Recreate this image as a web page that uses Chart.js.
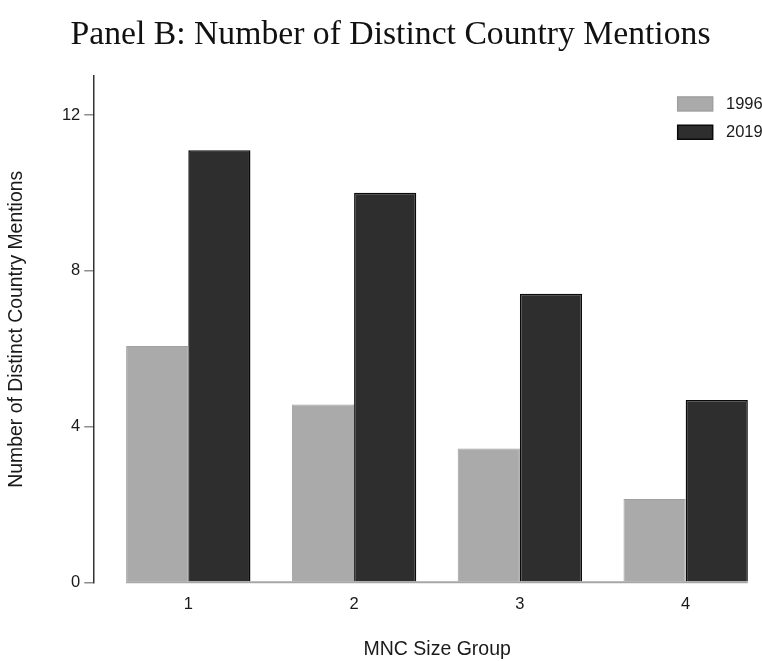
<!DOCTYPE html>
<html>
<head>
<meta charset="utf-8">
<script src="https://cdn.jsdelivr.net/npm/chart.js@4/dist/chart.umd.min.js"></script>
<style>
  html, body { margin: 0; padding: 0; background: #ffffff; overflow: hidden; width: 762px; height: 661px; }
  #wrap { position: relative; width: 781px; height: 661px; }
</style>
</head>
<body>
<div id="wrap"><canvas id="c"></canvas></div>
<script>
// ---- data ----
const categories = ['1', '2', '3', '4'];
const seriesNames = ['1996', '2019'];
const values1996 = [6.07, 4.57, 3.44, 2.14];
const values2019 = [11.10, 10.01, 7.41, 4.68];
const yTicks = [0, 4, 8, 12];
const titleText = 'Panel B: Number of Distinct Country Mentions';
const xTitle = 'MNC Size Group';
const yTitle = 'Number of Distinct Country Mentions';

const fill1996 = '#aaaaaa';
const fill2019 = '#2e2e2e';
const sansFont = "'Liberation Sans', Arial, Helvetica, sans-serif";

// baseline drawn from first bar's left edge to last bar's right edge
const baselinePlugin = {
  id: 'baseline',
  afterDatasetsDraw(chart) {
    const ctx = chart.ctx;
    const y = chart.scales.y.getPixelForValue(0);
    let minX = Infinity, maxX = -Infinity;
    chart.data.datasets.forEach((ds, i) => {
      chart.getDatasetMeta(i).data.forEach(el => {
        const p = el.getProps(['x', 'width'], true);
        minX = Math.min(minX, p.x - p.width / 2);
        maxX = Math.max(maxX, p.x + p.width / 2);
      });
    });
    ctx.save();
    ctx.strokeStyle = '#a6a6a6';
    ctx.lineWidth = 2;
    ctx.beginPath();
    ctx.moveTo(minX, y);
    ctx.lineTo(maxX, y);
    ctx.stroke();
    ctx.restore();
  }
};

// legend inside the plot, top-right, stacked vertically
const insideLegend = {
  id: 'insideLegend',
  afterDraw(chart) {
    const ctx = chart.ctx;
    const ca = chart.chartArea;
    const boxW = 35, boxH = 14, rowGap = 28.3;
    const boxLeft = ca.right - 103.3;
    const textLeft = ca.right - 55;
    const top0 = ca.top + 20.7;
    ctx.save();
    ctx.font = "16.5px " + sansFont;
    ctx.textBaseline = 'middle';
    ctx.textAlign = 'left';
    chart.data.datasets.forEach((ds, i) => {
      const top = top0 + i * rowGap;
      ctx.fillStyle = ds.backgroundColor;
      ctx.fillRect(boxLeft, top, boxW, boxH);
      ctx.strokeStyle = ds.borderColor;
      ctx.lineWidth = 1.5;
      ctx.strokeRect(boxLeft, top, boxW, boxH);
      ctx.fillStyle = '#1a1a1a';
      ctx.fillText(ds.label, textLeft, top + boxH / 2 + 0.5);
    });
    ctx.restore();
  }
};

new Chart(document.getElementById('c'), {
  type: 'bar',
  data: {
    labels: categories,
    datasets: [
      {
        label: seriesNames[0],
        data: values1996,
        backgroundColor: fill1996,
        borderColor: '#a0a0a0',
        borderWidth: 1,
        categoryPercentage: 0.75,
        barPercentage: 1.0
      },
      {
        label: seriesNames[1],
        data: values2019,
        backgroundColor: fill2019,
        borderColor: '#0a0a0a',
        borderWidth: 1.5,
        categoryPercentage: 0.75,
        barPercentage: 1.0
      }
    ]
  },
  options: {
    responsive: true,
    maintainAspectRatio: false,
    animation: false,
    layout: { padding: 0 },
    plugins: {
      legend: { display: false },
      tooltip: { enabled: false },
      title: {
        display: true,
        text: titleText,
        color: '#111111',
        font: { family: "'Liberation Serif', 'Times New Roman', serif", size: 33.7, weight: 'normal', lineHeight: 1.2 },
        padding: { top: 15, bottom: 20.8 }
      }
    },
    scales: {
      x: {
        type: 'linear',
        offset: false,
        min: 0.427,
        max: 4.575,
        grid: { display: false, drawTicks: false },
        border: { display: false },
        afterBuildTicks(scale) {
          scale.ticks = categories.map(c => ({ value: +c }));
        },
        ticks: {
          stepSize: 1,
          includeBounds: false,
          padding: 12,
          color: '#1a1a1a',
          font: { family: sansFont, size: 16.5 },
          callback: (v) => String(v)
        },
        title: {
          display: true,
          text: xTitle,
          color: '#1a1a1a',
          font: { family: sansFont, size: 19.5 },
          padding: { top: 0, bottom: 0 }
        },
        afterFit(scale) { scale.height = 78.7; }
      },
      y: {
        min: 0,
        max: 13,
        afterBuildTicks(scale) {
          scale.ticks = yTicks.map(v => ({ value: v }));
        },
        grid: {
          display: true,
          drawOnChartArea: false,
          drawTicks: true,
          tickLength: 9,
          color: '#8c8c8c',
          lineWidth: 1.5
        },
        border: { display: true, color: '#333333', width: 1.5 },
        ticks: {
          padding: 4,
          color: '#1a1a1a',
          font: { family: sansFont, size: 16.5 }
        },
        title: {
          display: true,
          text: yTitle,
          color: '#1a1a1a',
          font: { family: sansFont, size: 19.4 },
          padding: { top: 5, bottom: 0 }
        },
        afterFit(scale) { scale.width = 93.3; }
      }
    }
  },
  plugins: [baselinePlugin, insideLegend]
});
</script>
</body>
</html>
